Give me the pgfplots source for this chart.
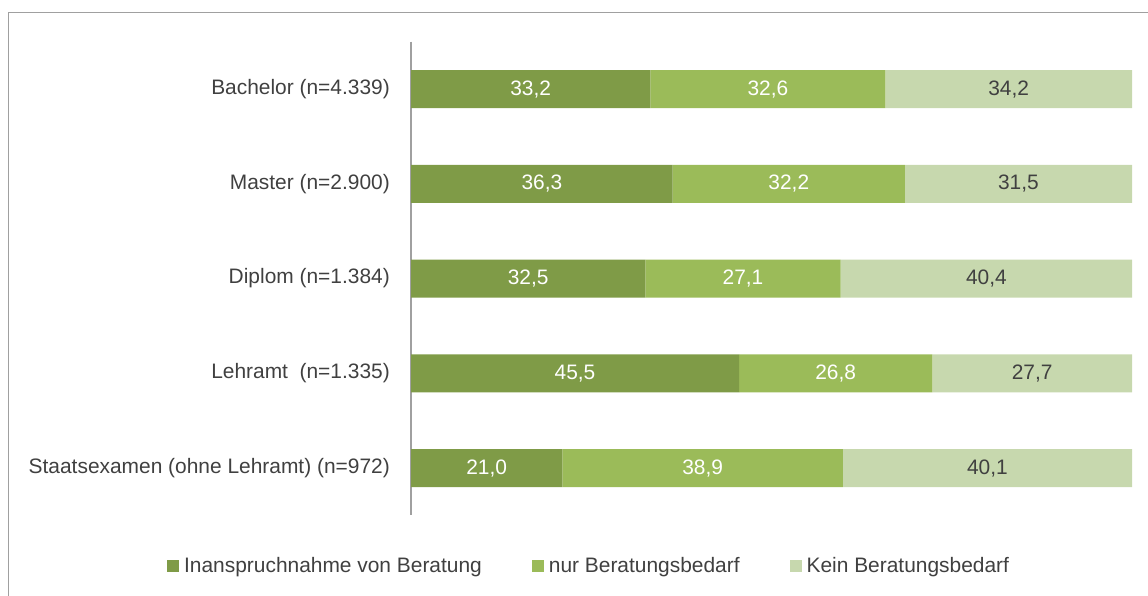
\documentclass[border=0pt]{standalone}
\usepackage{fontspec}
\setmainfont{Liberation Sans}
\usepackage{pgfplots}
\pgfplotsset{compat=1.18}

\definecolor{gdark}{HTML}{7F9B47}
\definecolor{gmid}{HTML}{9BBB59}
\definecolor{glight}{HTML}{C7D8AE}
\definecolor{txt}{HTML}{404040}
\definecolor{frame}{HTML}{A0A0A0}

\begin{document}
\begin{tikzpicture}
\useasboundingbox (0bp,0bp) rectangle (1148bp,-596bp);
% outer frame (top and left edges visible)
\draw[frame, line width=1bp] (8bp,-596bp) -- (8bp,-12bp) -- (1148bp,-12bp);

\begin{axis}[
    at={(411bp,-515.4bp)}, anchor=south west,
    scale only axis,
    width=721bp, height=473.75bp,
    xbar stacked,
    bar width=38bp,
    xmin=0, xmax=100,
    ymin=-0.5, ymax=4.5,
    y dir=reverse,
    axis x line=none,
    axis y line*=left,
    y axis line style={frame, line width=1.2bp, -},
    ytick={0,1,2,3,4},
    yticklabels={Bachelor (n=4.339), Master (n=2.900), Diplom (n=1.384),
                 Lehramt\ \ (n=1.335), Staatsexamen (ohne Lehramt) (n=972)},
    major tick length=0pt,
    yticklabel style={font=\fontsize{21}{24}\selectfont, text=txt, inner sep=0pt, xshift=-21bp},
    point meta=explicit,
    nodes near coords,
    nodes near coords style={font=\fontsize{21}{24}\selectfont, anchor=center,
        /pgf/number format/fixed, /pgf/number format/zerofill,
        /pgf/number format/precision=1, /pgf/number format/use comma,
        /pgf/number format/assume math mode=true},
    legend columns=3,
    legend style={at={(0.247,-0.107)}, anchor=center, draw=none,
        font=\fontsize{21}{24}\selectfont, text=txt,
        /tikz/every even column/.append style={column sep=48bp}},
    legend image code/.code={\fill[#1] (0bp,-6bp) rectangle (12bp,6bp);
        \path (15bp,0bp);},
]
\addplot[fill=gdark, draw=none, nodes near coords style={text=white}] coordinates {
    (33.2,0) [33.2] (36.3,1) [36.3] (32.5,2) [32.5] (45.5,3) [45.5] (21.0,4) [21.0]};
\addplot[fill=gmid, draw=none, nodes near coords style={text=white}] coordinates {
    (32.6,0) [32.6] (32.2,1) [32.2] (27.1,2) [27.1] (26.8,3) [26.8] (38.9,4) [38.9]};
\addplot[fill=glight, draw=none, nodes near coords style={text=txt}] coordinates {
    (34.2,0) [34.2] (31.5,1) [31.5] (40.4,2) [40.4] (27.7,3) [27.7] (40.1,4) [40.1]};
\legend{Inanspruchnahme von Beratung, nur Beratungsbedarf, Kein Beratungsbedarf}
\end{axis}
\end{tikzpicture}
\end{document}
